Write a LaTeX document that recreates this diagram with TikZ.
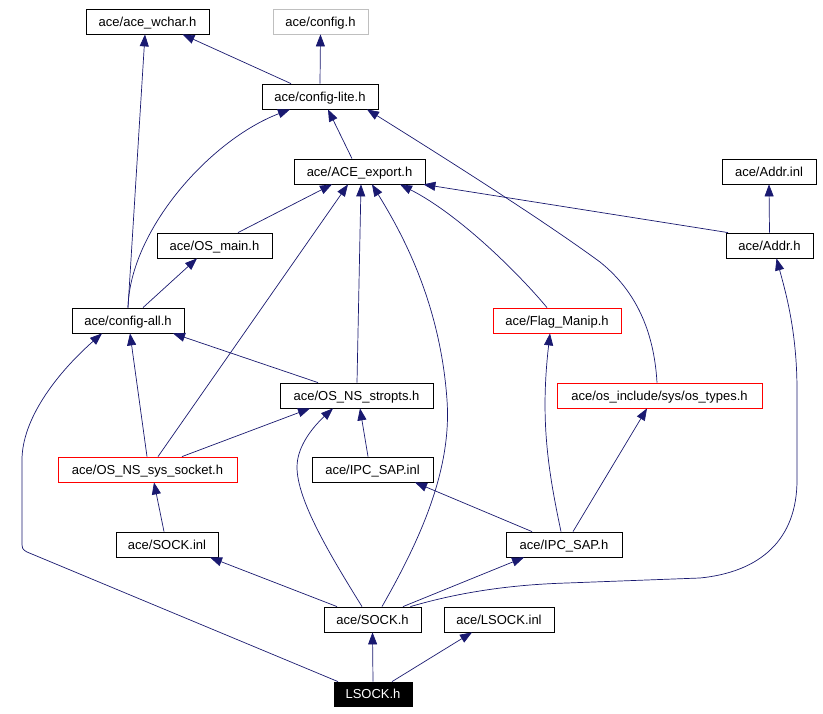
\documentclass[tikz,border=0pt]{standalone}
\usepackage{fontspec}
\setmainfont{Liberation Sans}
\usetikzlibrary{arrows.meta}
\definecolor{edgeblue}{RGB}{25,25,112}
\begin{document}
\begin{tikzpicture}[x=1pt,y=-1pt,font=\fontsize{13}{15}\selectfont]
  \tikzstyle{file}=[draw=black,minimum height=25pt,inner sep=0pt,line width=0.8pt,text height=9.5pt,text depth=0pt]
  \tikzstyle{redfile}=[file,draw=red]
  \tikzstyle{grayfile}=[file,draw=black!25]
  \tikzstyle{rootfile}=[file,fill=black,text=white]
  \tikzstyle{line}=[draw=edgeblue,line width=0.7pt,-{Triangle[length=12pt,width=9pt]}]
  \path[fill=white,use as bounding box] (0,0) rectangle (823,714);
  \node[file,minimum width=123]      (wchar)     at (147.5,21.5)  {ace/ace\_wchar.h};
  \node[grayfile,minimum width=95]   (config)    at (320.5,21.5)  {ace/config.h};
  \node[file,minimum width=116]      (configlite) at (320,96.5)   {ace/config-lite.h};
  \node[file,minimum width=131]      (export)    at (359.5,171.5) {ace/ACE\_export.h};
  \node[file,minimum width=94]       (addrinl)   at (769,171.5)   {ace/Addr.inl};
  \node[file,minimum width=115]      (osmain)    at (214.5,245.5) {ace/OS\_main.h};
  \node[file,minimum width=87]       (addrh)     at (769.5,245.5) {ace/Addr.h};
  \node[file,minimum width=112]      (configall) at (128,320.5)   {ace/config-all.h};
  \node[redfile,minimum width=128]   (flag)      at (557,320.5)   {ace/Flag\_Manip.h};
  \node[file,minimum width=153]      (stropts)   at (356.5,395.5) {ace/OS\_NS\_stropts.h};
  \node[redfile,minimum width=205]   (ostypes)   at (659.5,395.5) {ace/os\_include/sys/os\_types.h};
  \node[redfile,minimum width=179]   (syssocket) at (147.5,469.5) {ace/OS\_NS\_sys\_socket.h};
  \node[file,minimum width=121]      (ipcinl)    at (372.5,469.5) {ace/IPC\_SAP.inl};
  \node[file,minimum width=102]      (sockinl)   at (167,544.5)   {ace/SOCK.inl};
  \node[file,minimum width=116]      (ipch)      at (564,544.5)   {ace/IPC\_SAP.h};
  \node[file,minimum width=97]       (sockh)     at (372.5,619.5) {ace/SOCK.h};
  \node[file,minimum width=110]      (lsockinl)  at (499,619.5)   {ace/LSOCK.inl};
  \node[rootfile,minimum width=78,minimum height=24pt] (lsock) at (373,694) {LSOCK.h};
  % includes of config-lite.h
  \draw[line] ([xshift=-29pt]configlite.north) -- ([xshift=35pt]wchar.south);
  \draw[line] (configlite.north) -- (config.south);
  % includes of config-all.h
  \draw[line] (configall.north) -- ([xshift=-2.5pt]wchar.south);
  \draw[line] (configall.north) .. controls (130,230) and (210,140) .. ([xshift=-30pt]configlite.south);
  \draw[line] ([xshift=15pt]configall.north) -- ([xshift=-17.5pt]osmain.south);
  % ACE_export.h
  \draw[line] ([xshift=-7.5pt]export.north) -- ([xshift=8pt]configlite.south);
  \draw[line] ([xshift=23.5pt]osmain.north) -- ([xshift=-27.5pt]export.south);
  \draw[line] ([xshift=10.5pt]syssocket.north) -- ([xshift=-11.5pt]export.south);
  \draw[line] ([xshift=0.5pt]stropts.north) -- ([xshift=1.5pt]export.south);
  \draw[line] ([xshift=9.5pt]sockh.north) .. controls (420,540) and (452,470) .. (447,400)
    .. controls (440,300) and (400,230) .. ([xshift=12.5pt]export.south);
  \draw[line] ([xshift=-10pt]flag.north) .. controls (520,275) and (460,215) .. ([xshift=40.5pt]export.south);
  \draw[line] ([xshift=-41.5pt]addrh.north) -- ([xshift=-2pt]export.south east);
  \draw[line] (addrh.north) -- (addrinl.south);
  % os_types.h
  \draw[line] ([xshift=-2.5pt]ostypes.north) .. controls (654,330) and (635,290) .. (600,262)
    .. controls (540,218) and (440,155) .. ([xshift=47pt]configlite.south);
  % OS_NS_stropts.h and OS_NS_sys_socket.h
  \draw[line] ([xshift=-38.5pt]stropts.north) -- ([xshift=45pt]configall.south);
  \draw[line] ([xshift=-0.5pt]syssocket.north) -- ([xshift=2pt]configall.south);
  \draw[line] ([xshift=34.5pt]syssocket.north) -- ([xshift=-46.5pt]stropts.south);
  \draw[line] ([xshift=-4.5pt]ipcinl.north) -- ([xshift=3.5pt]stropts.south);
  \draw[line] ([xshift=-3pt]sockinl.north) -- ([xshift=6.5pt]syssocket.south);
  % IPC_SAP.h
  \draw[line] ([xshift=-32pt]ipch.north) -- ([xshift=42.5pt]ipcinl.south);
  \draw[line] ([xshift=-3pt]ipch.north) .. controls (548,470) and (540,420) .. ([xshift=-7pt]flag.south);
  \draw[line] ([xshift=9pt]ipch.north) -- ([xshift=-12.5pt]ostypes.south);
  % SOCK.h
  \draw[line] ([xshift=-10.5pt]sockh.north) .. controls (330,555) and (297,500) .. (297,467)
    .. controls (297,445) and (315,425) .. ([xshift=-23.5pt]stropts.south);
  \draw[line] ([xshift=-35.5pt]sockh.north) -- ([xshift=43pt]sockinl.south);
  \draw[line] ([xshift=30.5pt]sockh.north) -- ([xshift=-40pt]ipch.south);
  \draw[line] ([xshift=-11pt]sockh.north east) .. controls (450,595) and (500,585) .. (567,583)
    -- (700,578) .. controls (760,572) and (797,540) .. (797,480) -- (797,390)
    .. controls (797,330) and (785,290) .. ([xshift=7pt]addrh.south);
  % LSOCK.h
  \draw[line] ([xshift=-35pt]lsock.north) -- (27,552) .. controls (22,549) .. (22,540) -- (22,460)
    .. controls (22,420) and (55,375) .. ([xshift=-26pt]configall.south);
  \draw[line] (lsock.north) -- (sockh.south);
  \draw[line] ([xshift=19pt]lsock.north) -- ([xshift=-27pt]lsockinl.south);
\end{tikzpicture}
\end{document}
